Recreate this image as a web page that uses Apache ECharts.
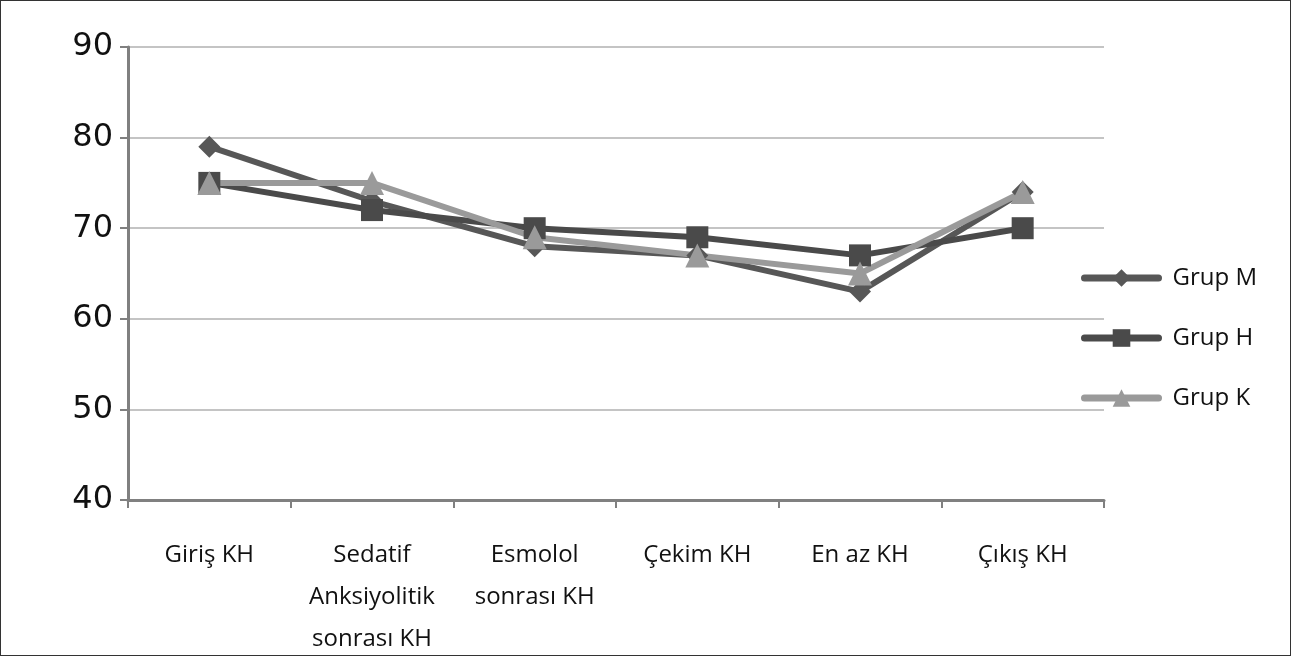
<html>
<head>
<meta charset="utf-8">
<title>Grup KH</title>
<script src="https://cdn.jsdelivr.net/npm/echarts@6/dist/echarts.min.js"></script>
<style>
body{margin:0;background:#fff}
#chart{width:1291px;height:656px;box-sizing:border-box;border:1px solid #333}
</style>
</head>
<body>
<div id="chart"></div>
<script>
// kategoriler ve seriler
var categories = ['Giriş KH', 'Sedatif\nAnksiyolitik\nsonrası KH', 'Esmolol\nsonrası KH', 'Çekim KH', 'En az KH', 'Çıkış KH'];
var grupM = [79, 73, 68, 67, 63, 74];
var grupH = [75, 72, 70, 69, 67, 70];
var grupK = [75, 75, 69, 67, 65, 74];

var myChart = echarts.init(document.getElementById('chart'));

function line(name, data, color, symbol, size) {
    return {
        name: name,
        type: 'line',
        data: data,
        symbol: symbol,
        symbolSize: size,
        color: color,
        lineStyle: {width: 6, color: color, cap: 'round', join: 'round'},
        itemStyle: {color: color},
        animation: false
    };
}

var option = {
    textStyle: {fontFamily: 'Open Sans'},
    grid: {left: 127, right: 186, top: 46, bottom: 155, outerBoundsMode: 'none'},
    legend: {
        orient: 'vertical',
        left: 1075,
        top: 260,
        itemWidth: 74,
        itemHeight: 22,
        itemGap: 36,
        lineStyle: {width: 7, cap: 'round'},
        textStyle: {fontSize: 24, color: '#111', fontFamily: 'Open Sans', padding: [0, 0, 0, 9]},
        data: ['Grup M', 'Grup H', 'Grup K']
    },
    xAxis: {
        type: 'category',
        data: categories,
        boundaryGap: true,
        axisLine: {lineStyle: {color: '#808080', width: 3}},
        axisTick: {show: true, length: 8, lineStyle: {color: '#808080', width: 2}},
        axisLabel: {fontSize: 24, color: '#111', margin: 34, lineHeight: 42, interval: 0}
    },
    yAxis: {
        type: 'value',
        min: 40,
        max: 90,
        interval: 10,
        axisLine: {show: true, lineStyle: {color: '#808080', width: 3}},
        axisTick: {show: true, length: 8, lineStyle: {color: '#808080', width: 2}},
        axisLabel: {fontSize: 32, color: '#111', margin: 15, fontFamily: 'DejaVu Sans'},
        splitLine: {lineStyle: {color: '#c4c4c4', width: 2}}
    },
    series: [
        line('Grup M', grupM, '#575757', 'diamond', 22),
        line('Grup H', grupH, '#4a4a4a', 'rect', 22),
        line('Grup K', grupK, '#9a9a9a', 'triangle', 24)
    ]
};
myChart.setOption(option);
</script>
</body>
</html>
